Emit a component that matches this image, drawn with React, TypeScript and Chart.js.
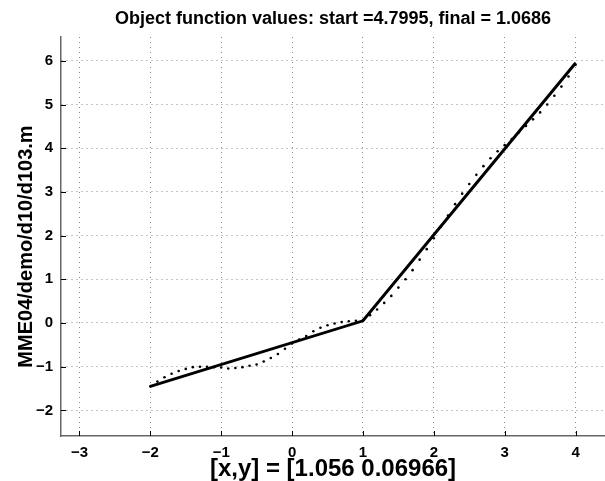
import React, { useEffect, useRef } from 'react';
import { Chart, registerables } from 'chart.js';

Chart.register(...registerables);

const titleText = 'Object function values: start =4.7995, final = 1.0686';
const xLabelText = '[x,y] = [1.056 0.06966]';
const yLabelText = 'MME04/demo/d10/d103.m';

const xTicks = [-3, -2, -1, 0, 1, 2, 3, 4];
const yTicks = [-2, -1, 0, 1, 2, 3, 4, 5, 6];
const xLimits = [-3.26, 4.415];
const yLimits = [-2.586, 6.545];

// solid fitted polyline
const fitX = [-2, 1, 4];
const fitY = [-1.45, 0.05, 5.95];

// dotted sample points
const sampleX = [
  -2.0, -1.9, -1.8, -1.7, -1.6, -1.5, -1.4, -1.3, -1.2, -1.1,
  -1.0, -0.9, -0.8, -0.7, -0.6, -0.5, -0.4, -0.3, -0.2, -0.1,
  0.0, 0.1, 0.2, 0.3, 0.4, 0.5, 0.6, 0.7, 0.8, 0.9,
  1.0, 1.1, 1.2, 1.3, 1.4, 1.5, 1.6, 1.7, 1.8, 1.9,
  2.0, 2.1, 2.2, 2.3, 2.4, 2.5, 2.6, 2.7, 2.8, 2.9,
  3.0, 3.1, 3.2, 3.3, 3.4, 3.5, 3.6, 3.7, 3.8, 3.9, 4.0,
];
const sampleY = [
  -1.45, -1.34, -1.24, -1.16, -1.10, -1.05, -1.01, -1.00, -1.00, -1.01,
  -1.02, -1.04, -1.03, -1.01, -0.98, -0.95, -0.88, -0.80, -0.71, -0.59,
  -0.47, -0.38, -0.30, -0.19, -0.11, -0.05, -0.01, 0.02, 0.04, 0.05,
  0.06, 0.18, 0.31, 0.46, 0.62, 0.81, 1.00, 1.21, 1.45, 1.69,
  1.94, 2.20, 2.46, 2.72, 2.96, 3.18, 3.39, 3.59, 3.77, 3.93,
  4.07, 4.21, 4.36, 4.51, 4.66, 4.82, 5.00, 5.20, 5.41, 5.64, 5.91,
];

const FONT = "'Liberation Sans', Arial, Helvetica, sans-serif";

const fmt = (v: number) => (v < 0 ? '\u2212' + Math.abs(v) : String(v));

const matlabDecor = {
  id: 'matlabDecor',
  afterDraw(chart: any) {
    const { ctx, chartArea: a, scales } = chart;
    ctx.save();
    // inward ticks
    ctx.strokeStyle = '#000';
    ctx.lineWidth = 1;
    ctx.beginPath();
    for (const v of xTicks) {
      const px = Math.round(scales.x.getPixelForValue(v)) + 0.5;
      ctx.moveTo(px, a.bottom);
      ctx.lineTo(px, a.bottom - 5);
    }
    for (const v of yTicks) {
      const py = Math.round(scales.y.getPixelForValue(v)) + 0.5;
      ctx.moveTo(a.left, py);
      ctx.lineTo(a.left + 5, py);
    }
    ctx.stroke();

    const cx = (a.left + a.right) / 2;
    ctx.fillStyle = '#000';
    ctx.textAlign = 'center';
    ctx.textBaseline = 'alphabetic';
    ctx.font = `bold 18px ${FONT}`;
    ctx.fillText(titleText, cx, 24);
    ctx.font = `bold 24px ${FONT}`;
    ctx.fillText(xLabelText, cx, 476);
    ctx.save();
    ctx.translate(32, (a.top + a.bottom) / 2 + 10);
    ctx.rotate(-Math.PI / 2);
    ctx.font = `bold 20px ${FONT}`;
    ctx.fillText(yLabelText, 0, 0);
    ctx.restore();
    ctx.restore();
  },
};

export default function App() {
  const ref = useRef<HTMLCanvasElement | null>(null);
  useEffect(() => {
    if (!ref.current) return;
    const chart = new Chart(ref.current, {
      type: 'scatter',
      data: {
        datasets: [
          {
            label: 'samples',
            data: sampleX.map((x, i) => ({ x, y: sampleY[i] })),
            showLine: false,
            pointRadius: 1.3,
            pointHoverRadius: 1.3,
            pointBackgroundColor: '#000',
            pointBorderWidth: 0,
            borderColor: '#000',
          },
          {
            label: 'fit',
            data: fitX.map((x, i) => ({ x, y: fitY[i] })),
            showLine: true,
            borderColor: '#000',
            borderWidth: 3,
            pointRadius: 0,
            pointHoverRadius: 0,
            fill: false,
          },
        ],
      },
      options: {
        animation: false,
        responsive: false,
        devicePixelRatio: 1,
        events: [],
        layout: { autoPadding: false, padding: { top: 37, left: 0, right: 0, bottom: 0 } },
        plugins: {
          legend: { display: false },
          title: { display: false },
          tooltip: { enabled: false },
        },
        scales: {
          x: {
            type: 'linear',
            min: xLimits[0],
            max: xLimits[1],
            afterBuildTicks: (s: any) => {
              s.ticks = xTicks.map((v) => ({ value: v }));
            },
            afterFit: (s: any) => {
              s.height = 45;
              s.paddingLeft = 0;
              s.paddingRight = 0;
            },
            ticks: {
              callback: (v: any) => fmt(Number(v)),
              color: '#000',
              font: { family: FONT, size: 15, weight: 'bold' },
              padding: 8,
              maxRotation: 0,
              autoSkip: false,
            },
            grid: { color: '#8a8a8a', lineWidth: 1, drawTicks: false },
            border: { display: true, color: '#666', width: 1.5, dash: [1, 4] },
          },
          y: {
            type: 'linear',
            min: yLimits[0],
            max: yLimits[1],
            afterBuildTicks: (s: any) => {
              s.ticks = yTicks.map((v) => ({ value: v }));
            },
            afterFit: (s: any) => {
              s.width = 61;
              s.paddingTop = 0;
              s.paddingBottom = 0;
            },
            ticks: {
              callback: (v: any) => fmt(Number(v)),
              color: '#000',
              font: { family: FONT, size: 15, weight: 'bold' },
              padding: 8,
              autoSkip: false,
            },
            grid: { color: '#8a8a8a', lineWidth: 1, drawTicks: false },
            border: { display: true, color: '#666', width: 1.5, dash: [1, 4] },
          },
        },
      } as any,
      plugins: [matlabDecor],
    });
    return () => chart.destroy();
  }, []);
  return (
    <div style={{ position: 'absolute', left: 0, top: 0, width: 605, height: 481, background: '#fff' }}>
      <canvas ref={ref} width={605} height={481} style={{ display: 'block' }} />
    </div>
  );
}
